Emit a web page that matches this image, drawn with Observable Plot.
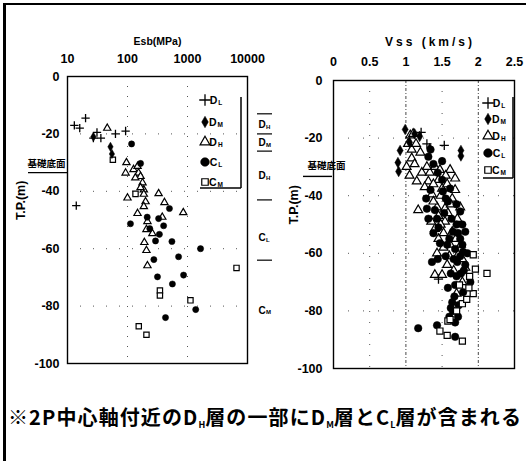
<!DOCTYPE html>
<html><head><meta charset="utf-8">
<script src="https://cdn.jsdelivr.net/npm/d3@7"></script>
<script src="https://cdn.jsdelivr.net/npm/@observablehq/plot@0.6"></script>
<style>
body{margin:0;background:#fff;}
#wrap{position:relative;width:526px;height:461px;overflow:hidden;background:#fff;}
#border{position:absolute;left:3px;top:3px;width:600px;height:600px;border-top:2px solid #000;border-left:3px solid #000;}
#left,#right{position:absolute;top:0;}
#left{left:0;}
#right{left:280px;}
#caption{position:absolute;left:8px;top:406px;font-family:"Noto Sans CJK JP",sans-serif;font-weight:bold;font-size:20px;line-height:22px;letter-spacing:1.1px;white-space:nowrap;color:#000;}
#caption .s{font-size:9px;letter-spacing:0;position:relative;top:3px;}
</style></head>
<body>
<div id="wrap">
  <div id="border"></div>
  <div id="left"></div>
  <div id="right"></div>
  <div id="caption">※2P中心軸付近のD<span class="s">H</span>層の一部にD<span class="s">M</span>層とC<span class="s">L</span>層が含まれる</div>
</div>
<script>
// ---------- data ----------
// Left panel: Esb (MPa) vs T.P. (m)
const esbDL = [[13,-17],[16,-18],[20,-14.5],[27,-21.5],[31,-19.5],[36,-21.5],[63,-20],[93,-19],[14,-45]];
const esbDM = [[27,-21],[52,-24.5],[55,-27]];
const esbDH = [[46,-18],[96,-30],[93,-33.6],[126,-32.4],[147,-31.3],[153,-33.6],[165,-34.8],[135,-35.3],[178,-37],[187,-39.5],[100,-42.3],[165,-38.7],[187,-41],[200,-43.6],[187,-45.3],[215,-50.5],[207,-53.3],[147,-47.7],[330,-40.8],[413,-43.9],[850,-47.4],[380,-49],[191,-57.8],[207,-60.6],[215,-65.9],[260,-54.7]];
const esbCL = [[117,-23.5],[165,-30.3],[112,-51.3],[213,-49],[330,-49.5],[400,-52],[500,-46],[340,-55],[293,-57.3],[235,-53],[550,-57.5],[1650,-60],[710,-62.8],[275,-63.8],[316,-69.8],[560,-72.3],[860,-69.2],[1370,-81.2],[430,-84]];
const esbCM = [[57,-29],[136,-40.9],[6560,-66.7],[347,-74.6],[347,-76.3],[1120,-78],[154,-87],[207,-90]];

// Right panel: Vss (km/s) vs T.P. (m)
const vssDL = [[1.21,-18],[1.29,-22],[1.53,-22.5],[1.45,-69]];
const vssDM = [[0.99,-17],[0.92,-24.3],[0.89,-28.5],[0.90,-31.6],[1.12,-18.5],[1.19,-19.4],[1.33,-23.6],[1.76,-24.3],[1.76,-26.2],[1.05,-21.5]];
const vssDH = [[1.06,-19],[1.10,-18.5],[1.03,-22],[1.08,-24],[1.08,-27],[1.01,-30],[1.05,-33],[1.12,-29],[1.22,-32],[1.15,-35],[1.17,-45],[1.40,-30],[1.47,-31],[1.61,-31],[1.68,-34],[1.31,-35],[1.36,-39.5],[1.43,-44],[1.54,-44.5],[1.40,-51.5],[1.45,-55],[1.54,-49],[1.64,-52.5],[1.71,-48],[1.40,-67.5],[1.50,-67.5],[1.82,-65],[1.72,-60.5],[1.61,-57],[1.50,-37.5],[1.57,-36],[1.64,-41],[1.33,-32],[1.26,-37],[1.38,-42],[1.48,-40],[1.58,-46],[1.29,-30],[1.45,-47],[1.35,-49],[1.52,-53],[1.68,-38],[1.75,-44],[1.60,-61],[1.66,-66],[1.78,-70],[1.52,-58],[1.43,-60],[1.57,-64],[1.76,-57],[1.20,-25],[1.14,-22],[1.45,-34.5],[1.55,-33],[1.38,-36],[1.62,-43],[1.48,-50],[1.69,-55],[1.78,-62],[1.70,-74]];
const vssCL = [[1.31,-26.5],[1.34,-24],[1.50,-28],[1.29,-44.5],[1.31,-48],[1.43,-48],[1.58,-42],[1.51,-38.5],[1.65,-52.5],[1.75,-55],[1.78,-57],[1.79,-59.5],[1.68,-58.5],[1.57,-57],[1.47,-56.5],[1.44,-62],[1.71,-63],[1.82,-64],[1.68,-71],[1.79,-73.5],[1.89,-70],[1.64,-77],[1.65,-80],[1.68,-84],[1.17,-86],[1.43,-85],[1.68,-89],[1.82,-52.5],[1.78,-50],[1.75,-45.5],[1.61,-37.5],[1.50,-34.5],[1.55,-41],[1.40,-45],[1.63,-48],[1.72,-53],[1.55,-61],[1.62,-67],[1.70,-68],[1.75,-61],[1.85,-60],[1.73,-78],[1.60,-82],[1.67,-75],[1.80,-66],[1.38,-53],[1.45,-51],[1.53,-46],[1.60,-55],[1.70,-50],[1.66,-62],[1.58,-72],[1.62,-79],[1.34,-38],[1.44,-32],[1.38,-29],[1.28,-41],[1.70,-43],[1.36,-63],[1.76,-67],[1.72,-82]];
const vssCM = [[1.93,-60.5],[1.96,-65.5],[2.12,-67],[1.93,-74],[1.78,-77.5],[1.58,-83.5],[1.47,-87],[1.57,-88.5],[1.78,-90.5],[1.74,-71],[1.61,-83],[1.88,-68],[1.84,-76],[1.70,-80],[1.87,-72]];

const esbTicks = [10, 100, 1000, 10000];
const vssTicks = [0, 0.5, 1, 1.5, 2, 2.5];
const depthTicks = [0, -20, -40, -60, -80, -100];
const foundationDepth = -33.5;           // 基礎底面
const layerBounds = [-13, -20, -26, -43, -64];
const layerLabels = [
  {m: -16.8, main: "D", sub: "H"},
  {m: -23.1, main: "D", sub: "M"},
  {m: -34.6, main: "D", sub: "H"},
  {m: -56.3, main: "C", sub: "L"},
  {m: -81.5, main: "C", sub: "M"}
];
const legendItems = [
  {main: "D", sub: "L", sym: "plus"},
  {main: "D", sub: "M", sym: "diamond"},
  {main: "D", sub: "H", sym: "triangle"},
  {main: "C", sub: "L", sym: "circle"},
  {main: "C", sub: "M", sym: "square"}
];

// ---------- helpers ----------
const FONT = "'Liberation Sans', Arial, sans-serif";
const styles = {
  plus: {symbol: "plus", fill: "none", stroke: "black", strokeWidth: 1.3, r: 2.8},
  diamond: {symbol: "diamond", fill: "black", stroke: "black", strokeWidth: 0.5, r: 2.8},
  triangle: {symbol: "triangle", fill: "white", stroke: "black", strokeWidth: 1.2, r: 2.7},
  circle: {symbol: "circle", fill: "black", stroke: "black", strokeWidth: 0.5, r: 3.1},
  square: {symbol: "square", fill: "white", stroke: "black", strokeWidth: 1.2, r: 3}
};
const legendSize = {plus: 45, diamond: 38, triangle: 42, circle: 60, square: 42};
const d3sym = {plus: d3.symbolPlus, diamond: d3.symbolDiamond, triangle: d3.symbolTriangle, circle: d3.symbolCircle, square: d3.symbolSquare};

function dots(data, key, rScale = 1) {
  const s = styles[key];
  return Plot.dot(data, {x: d => d[0], y: d => d[1], symbol: s.symbol, fill: s.fill, stroke: s.stroke, strokeWidth: s.strokeWidth, r: s.r * rScale});
}

function drawLegend(svg, {mx, tx, rows, vx, vy0, vy1, hx0}) {
  const g = d3.select(svg).append("g").attr("font-family", FONT).attr("font-weight", "bold");
  legendItems.forEach((it, i) => {
    const y = rows[i];
    const st = styles[it.sym];
    g.append("path")
      .attr("d", d3.symbol(d3sym[it.sym], legendSize[it.sym])())
      .attr("transform", `translate(${mx},${y})`)
      .attr("fill", st.fill).attr("stroke", "black").attr("stroke-width", st.strokeWidth);
    const t = g.append("text").attr("x", tx).attr("y", y + 4).attr("font-size", 10.5).attr("fill", "black");
    t.append("tspan").text(it.main);
    t.append("tspan").attr("font-size", 6.5).attr("dx", 1).attr("dy", 1).text(it.sub);
  });
  g.append("line").attr("x1", vx).attr("x2", vx).attr("y1", vy0).attr("y2", vy1).attr("stroke", "black").attr("stroke-width", 1.5);
  g.append("line").attr("x1", hx0).attr("x2", vx).attr("y1", vy1).attr("y2", vy1).attr("stroke", "black").attr("stroke-width", 1.5);
}

const axisFont = {fontSize: 12.5, fontWeight: "bold"};

// ---------- left panel ----------
const left = Plot.plot({
  width: 290, height: 380,
  marginLeft: 67, marginRight: 43, marginTop: 76, marginBottom: 17,
  x: {type: "log", domain: [10, 10000], axis: null},
  y: {domain: [-100, 0], axis: null},
  style: {fontFamily: FONT, background: "transparent", overflow: "visible", color: "black"},
  marks: [
    Plot.ruleX([100, 1000], {stroke: "#555", strokeDasharray: "1,9"}),
    Plot.ruleY([-20, -40, -60, -80], {stroke: "#555", strokeDasharray: "1,12"}),
    Plot.axisX(esbTicks, {anchor: "top", tickSize: 0, tickPadding: 14, tickFormat: d => String(d), label: null, ...axisFont}),
    Plot.axisY(depthTicks, {anchor: "left", tickSize: 0, tickPadding: 8, tickFormat: d => String(d), label: null, ...axisFont}),
    Plot.text(["Esb(MPa)"], {frameAnchor: "top", dy: -39, text: d => d, fontSize: 10.5, fontWeight: "bold"}),
    Plot.text(["T.P.(m)"], {frameAnchor: "left", dx: -47, rotate: -90, text: d => d, fontSize: 12.5, fontWeight: "bold"}),
    Plot.ruleY([foundationDepth], {insetLeft: -39, insetRight: 180, stroke: "black", strokeWidth: 1.4}),
    Plot.text([foundationDepth], {y: d => d, frameAnchor: "left", dx: -40, dy: -9, text: () => "基礎底面", fontSize: 9.5, fontWeight: "bold", fontFamily: "'Noto Sans CJK JP', sans-serif"}),
    Plot.ruleY(layerBounds, {insetLeft: 190, insetRight: -25, stroke: "black", strokeWidth: 1.2}),
    Plot.text(layerLabels, {y: "m", text: "main", frameAnchor: "right", dx: 11, textAnchor: "start", fontSize: 10, fontWeight: "bold"}),
    Plot.text(layerLabels, {y: "m", text: "sub", frameAnchor: "right", dx: 18.5, dy: 2, textAnchor: "start", fontSize: 6, fontWeight: "bold"}),
    dots(esbDH, "triangle"),
    dots(esbCL, "circle"),
    dots(esbCM, "square"),
    dots(esbDM, "diamond"),
    dots(esbDL, "plus"),
    Plot.frame({stroke: "black", strokeWidth: 1.4})
  ]
});
drawLegend(left, {mx: 205, tx: 216, rows: [100, 122, 142, 162, 182], vx: 241, vy0: 97, vy1: 188, hx0: 200});
document.getElementById("left").appendChild(left);

// ---------- right panel ----------
const right = Plot.plot({
  width: 246, height: 380,
  marginLeft: 53, marginRight: 12, marginTop: 80, marginBottom: 12,
  x: {domain: [0, 2.5], axis: null},
  y: {domain: [-100, 0], axis: null},
  style: {fontFamily: FONT, background: "transparent", overflow: "visible", color: "black"},
  marks: [
    Plot.ruleX([1, 2], {stroke: "#333", strokeDasharray: "3,2,1,2", strokeWidth: 0.9}),
    Plot.ruleX([0.5, 1.5], {stroke: "#555", strokeDasharray: "1,10"}),
    Plot.ruleY([-20, -40, -60, -80], {stroke: "#555", strokeDasharray: "1,14"}),
    Plot.axisX(vssTicks, {anchor: "top", tickSize: 0, tickPadding: 15, tickFormat: d => String(d), label: null, ...axisFont}),
    Plot.axisY(depthTicks, {anchor: "left", tickSize: 0, tickPadding: 11, tickFormat: d => String(d), label: null, ...axisFont}),
    Plot.text(["Vss (km/s)"], {frameAnchor: "top", dx: 6, dy: -43, text: d => d, fontSize: 12, fontWeight: "bold"}),
    Plot.text(["T.P.(m)"], {frameAnchor: "left", dx: -40, rotate: -90, text: d => d, fontSize: 12.5, fontWeight: "bold"}),
    Plot.ruleY([-33.3], {insetLeft: -30, insetRight: 182, stroke: "black", strokeWidth: 1.4}),
    Plot.text([-33.3], {y: d => d, frameAnchor: "left", dx: -26, dy: -10, text: () => "基礎底面", fontSize: 9.5, fontWeight: "bold", fontFamily: "'Noto Sans CJK JP', sans-serif"}),
    dots(vssDH, "triangle", 1.22),
    dots(vssCL, "circle", 1.22),
    dots(vssCM, "square", 1.15),
    dots(vssDM, "diamond", 1.15),
    dots(vssDL, "plus", 1.1),
    Plot.frame({stroke: "black", strokeWidth: 1.4})
  ]
});
d3.select(right).selectAll("text").filter(function() { return this.textContent === "Vss (km/s)"; }).style("letter-spacing", "3px");
drawLegend(right, {mx: 208, tx: 219, rows: [103, 119, 136, 153, 170], vx: 233, vy0: 97, vy1: 178, hx0: 203});
document.getElementById("right").appendChild(right);
</script>
</body></html>
